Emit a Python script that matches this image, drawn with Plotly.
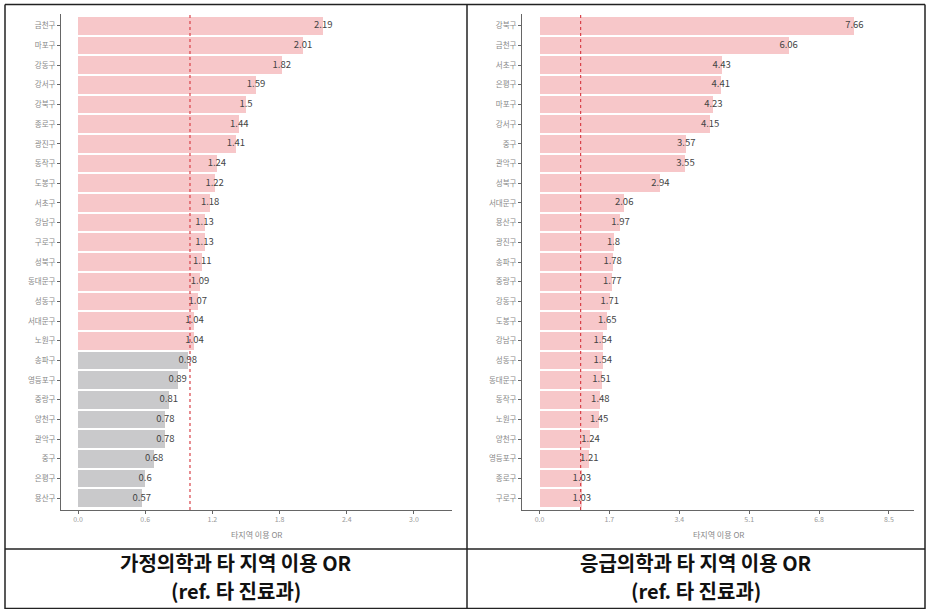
import plotly.graph_objects as go

# Left panel: 가정의학과
fam_districts = ["금천구", "마포구", "강동구", "강서구", "강북구", "종로구", "광진구", "동작구",
                 "도봉구", "서초구", "강남구", "구로구", "성북구", "동대문구", "성동구", "서대문구",
                 "노원구", "송파구", "영등포구", "중랑구", "양천구", "관악구", "중구", "은평구", "용산구"]
fam_or = [2.19, 2.01, 1.82, 1.59, 1.5, 1.44, 1.41, 1.24, 1.22, 1.18, 1.13, 1.13, 1.11, 1.09,
          1.07, 1.04, 1.04, 0.98, 0.89, 0.81, 0.78, 0.78, 0.68, 0.6, 0.57]

# Right panel: 응급의학과
emg_districts = ["강북구", "금천구", "서초구", "은평구", "마포구", "강서구", "중구", "관악구",
                 "성북구", "서대문구", "용산구", "광진구", "송파구", "중랑구", "강동구", "도봉구",
                 "강남구", "성동구", "동대문구", "동작구", "노원구", "양천구", "영등포구", "종로구", "구로구"]
emg_or = [7.66, 6.06, 4.43, 4.41, 4.23, 4.15, 3.57, 3.55, 2.94, 2.06, 1.97, 1.8, 1.78, 1.77,
          1.71, 1.65, 1.54, 1.54, 1.51, 1.48, 1.45, 1.24, 1.21, 1.03, 1.03]

fam_ticks = [0.0, 0.6, 1.2, 1.8, 2.4, 3.0]
emg_ticks = [0.0, 1.7, 3.4, 5.1, 6.8, 8.5]

caption_titles = ["가정의학과 타 지역 이용 OR", "응급의학과 타 지역 이용 OR"]
caption_ref = "(ref. 타 진료과)"
axis_title = "타지역 이용 OR"

PINK = "#F7C7C9"
GRAY = "#C9C9CB"
FONT = "Noto Sans CJK KR"
W, H = 928, 609


def px(x):
    return x / W


def py(y):
    return 1 - y / H


def fmt(v):
    s = f"{v:.2f}".rstrip("0")
    if s.endswith("."):
        s = s[:-1]
    return s


fig = go.Figure()

# left bars
fig.add_trace(go.Bar(
    x=fam_or, y=fam_districts, orientation="h", width=0.9,
    marker=dict(color=[PINK if v >= 1 else GRAY for v in fam_or], line=dict(width=0)),
    xaxis="x", yaxis="y", showlegend=False, hoverinfo="skip"))
fig.add_trace(go.Scatter(
    x=fam_or, y=fam_districts, mode="text", text=[fmt(v) for v in fam_or],
    textposition="middle center", textfont=dict(size=9.5, color="#444", family=FONT),
    xaxis="x", yaxis="y", showlegend=False, hoverinfo="skip", cliponaxis=False))

# right bars
fig.add_trace(go.Bar(
    x=emg_or, y=emg_districts, orientation="h", width=0.9,
    marker=dict(color=[PINK if v >= 1 else GRAY for v in emg_or], line=dict(width=0)),
    xaxis="x2", yaxis="y2", showlegend=False, hoverinfo="skip"))
fig.add_trace(go.Scatter(
    x=emg_or, y=emg_districts, mode="text", text=[fmt(v) for v in emg_or],
    textposition="middle center", textfont=dict(size=9.5, color="#444", family=FONT),
    xaxis="x2", yaxis="y2", showlegend=False, hoverinfo="skip", cliponaxis=False))

n = len(fam_districts)
common_x = dict(showline=True, linecolor="#666", linewidth=1, ticks="outside", ticklen=3,
                tickcolor="#666", tickfont=dict(size=7, color="#999", family=FONT),
                showgrid=False, zeroline=False, fixedrange=True)
common_y = dict(showline=True, linecolor="#666", linewidth=1, ticks="outside", ticklen=3,
                tickcolor="#666", tickfont=dict(size=7.5, color="#888", family=FONT),
                showgrid=False, zeroline=False, type="category", range=[n - 0.4, -0.6])

fig.update_layout(
    width=W, height=H, margin=dict(l=0, r=0, t=0, b=0),
    paper_bgcolor="white", plot_bgcolor="white",
    font=dict(family=FONT),
    bargap=0,
    xaxis=dict(domain=[px(61), px(452)], range=[-0.152, 3.34], tickvals=fam_ticks,
               ticktext=[f"{t:.1f}" for t in fam_ticks], anchor="y", **common_x),
    yaxis=dict(domain=[py(510), py(14)], anchor="x", categoryorder="array",
               categoryarray=fam_districts, **common_y),
    xaxis2=dict(domain=[px(522), px(914)], range=[-0.426, 9.11], tickvals=emg_ticks,
                ticktext=[f"{t:.1f}" for t in emg_ticks], anchor="y2", **common_x),
    yaxis2=dict(domain=[py(510), py(14)], anchor="x2", categoryorder="array",
                categoryarray=emg_districts, **common_y),
)

# reference line at OR = 1
for xr, yr in (("x", "y domain"), ("x2", "y2 domain")):
    fig.add_shape(type="line", xref=xr, yref=yr, x0=1, x1=1, y0=0, y1=1,
                  line=dict(color="#D9434A", width=1.2, dash="dot"))

# axis titles
for cx in ((61 + 452) / 2, (522 + 914) / 2):
    fig.add_annotation(x=px(cx), y=py(534), xref="paper", yref="paper", text=axis_title,
                       showarrow=False, font=dict(size=8, color="#888", family=FONT),
                       xanchor="center", yanchor="middle")

# table borders
LC = "#222"
borders = [
    (5, 4.5, 925, 4.5),
    (5, 549, 925, 549),
    (5, 608.5, 925, 608.5),
    (5, 4.5, 5, 609),
    (925, 4.5, 925, 609),
    (467, 4.5, 467, 609),
]
for x0, y0, x1, y1 in borders:
    fig.add_shape(type="line", xref="paper", yref="paper", x0=px(x0), y0=py(y0),
                  x1=px(x1), y1=py(y1), line=dict(color=LC, width=1.5))

# captions
for cx, title in zip(((5 + 467) / 2, (467 + 925) / 2), caption_titles):
    for yy, txt in ((562.5, title), (590, caption_ref)):
        fig.add_annotation(x=px(cx), y=py(yy), xref="paper", yref="paper", text=f"<b>{txt}</b>",
                           showarrow=False, font=dict(size=20, color="#111", family=FONT),
                           xanchor="center", yanchor="middle", align="center")

fig.write_html("out.html")
